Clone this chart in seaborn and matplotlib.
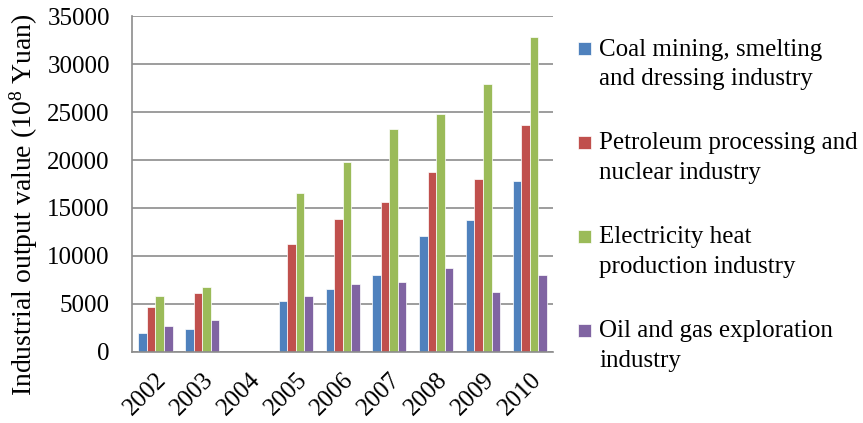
import numpy as np
import pandas as pd
import matplotlib.pyplot as plt
from matplotlib.patches import Rectangle
from matplotlib.legend_handler import HandlerPatch
import seaborn as sns

# data (10^8 Yuan)
years = ["2002", "2003", "2004", "2005", "2006", "2007", "2008", "2009", "2010"]
industries = [
    "Coal mining, smelting\nand dressing industry",
    "Petroleum processing and\nnuclear industry",
    "Electricity heat\nproduction industry",
    "Oil and gas exploration\nindustry",
]
coal = [1950, 2360, 0, 5280, 6600, 8060, 12080, 13720, 17850]
petroleum = [4720, 6110, 0, 11220, 13890, 15660, 18750, 17990, 23650]
electricity = [5870, 6740, 0, 16600, 19800, 23230, 24790, 27920, 32780]
oil_gas = [2710, 3370, 0, 5830, 7080, 7260, 8780, 6220, 8020]

colors = ["#4F81BD", "#C0504D", "#9BBB59", "#8064A2"]

df = pd.DataFrame({
    "year": years * 4,
    "industry": np.repeat(industries, len(years)),
    "value": coal + petroleum + electricity + oil_gas,
})

sns.set_style("white")
plt.rcParams["font.family"] = ["Liberation Serif", "DejaVu Serif"]
plt.rcParams["mathtext.default"] = "regular"
plt.rcParams["text.color"] = "black"
plt.rcParams["xtick.color"] = "black"
plt.rcParams["ytick.color"] = "black"
plt.rcParams["axes.labelcolor"] = "black"

fig = plt.figure(figsize=(8.63, 4.23), dpi=100)
ax = fig.add_axes([0.153, 0.168, 0.488, 0.794])

sns.barplot(data=df, x="year", y="value", hue="industry", palette=colors,
            saturation=1, width=0.73, edgecolor="white", linewidth=0.5, ax=ax)

ax.set_ylim(0, 35000)
ax.set_yticks(np.arange(0, 35001, 5000))
ax.set_xlim(-0.5, len(years) - 0.5)
ax.yaxis.grid(True, color="#8c8c8c", linewidth=1.2)
ax.set_axisbelow(True)

for side in ["top", "right"]:
    ax.spines[side].set_visible(False)
for side in ["left", "bottom"]:
    ax.spines[side].set_color("#8c8c8c")
    ax.spines[side].set_linewidth(1.2)

# ticks sit between the year groups
ax.set_xticks(np.arange(-0.5, len(years), 1), minor=True)
ax.tick_params(axis="x", which="minor", length=5, color="#8c8c8c", width=1.2)
ax.tick_params(axis="x", which="major", length=0, pad=12)
ax.tick_params(axis="y", length=5, color="#8c8c8c", width=1.2, pad=11)
ax.set_xticks(range(len(years)))
ax.set_xticklabels(years, rotation=45, ha="right", rotation_mode="anchor", fontsize=18)
for lab in ax.get_yticklabels():
    lab.set_fontsize(18)

ax.set_xlabel("")
ax.set_ylabel("Industrial output value (10$^8$ Yuan)", fontsize=20)
ax.yaxis.set_label_coords(-0.218, 0.44)


# legend square sits beside the first line of each two-line label
def top_square(legend, orig_handle, xdescent, ydescent, width, height, fontsize):
    s = 0.52 * fontsize
    return Rectangle((-xdescent, -ydescent + height - s - 0.05 * fontsize), s, s)


leg = ax.legend(loc="upper left", bbox_to_anchor=(1.005, 1.0), frameon=False,
                fontsize=18, handlelength=0.55, handleheight=2.6, handletextpad=0.3,
                labelspacing=1.69, borderaxespad=0.5,
                handler_map={Rectangle: HandlerPatch(patch_func=top_square)})
for t in leg.get_texts():
    t.set_linespacing(1.45)

plt.savefig("out.png", dpi=100)
